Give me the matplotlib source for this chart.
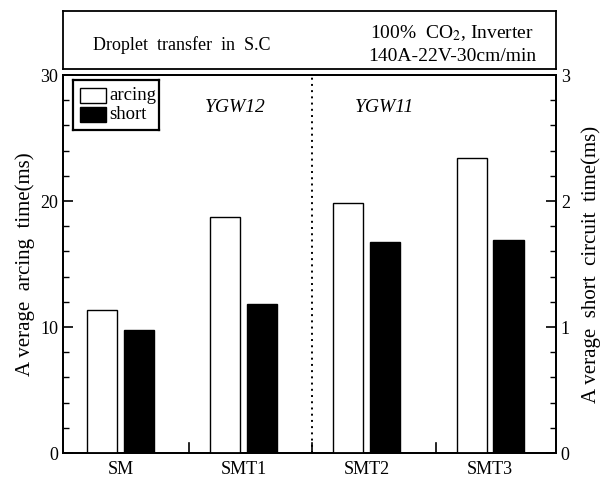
import matplotlib
matplotlib.use("Agg")
import matplotlib.pyplot as plt
from matplotlib.patches import Rectangle
from matplotlib.ticker import MultipleLocator
import numpy as np

categories = ["SM", "SMT1", "SMT2", "SMT3"]
arcing_ms = [11.35, 18.7, 19.85, 23.4]
short_ms = [0.98, 1.18, 1.675, 1.69]
left_ticks = [0, 10, 20, 30]
right_ticks = [0, 1, 2, 3]
group_labels = ["YGW12", "YGW11"]

plt.rcParams['font.family'] = ['Liberation Serif', 'DejaVu Serif']
plt.rcParams['mathtext.fontset'] = 'stix'

fig = plt.figure(figsize=(6.08, 4.82), dpi=100)
ax = fig.add_axes([63/608, 1-453/482, (556-63)/608, (453-75)/482])
ax2 = ax.twinx()

x = np.arange(1, len(categories) + 1)
w = 0.245
off = 0.15
ax.bar(x - off, arcing_ms, width=w, color='white', edgecolor='black', linewidth=1.0, zorder=3)
ax2.bar(x + off, short_ms, width=w, color='black', edgecolor='black', linewidth=1.0, zorder=3)

ax.set_xlim(0.534, 4.535)
ax.set_ylim(0, 30)
ax2.set_ylim(0, 3)
ax.set_yticks(left_ticks)
ax2.set_yticks(right_ticks)
ax.yaxis.set_minor_locator(MultipleLocator(2))
ax2.yaxis.set_minor_locator(MultipleLocator(0.2))
ax.tick_params(axis='y', which='major', direction='in', length=7, width=1.2, labelsize=13)
ax.tick_params(axis='y', which='minor', direction='in', length=4, width=1.0)
ax2.tick_params(axis='y', which='major', direction='in', length=7, width=1.2, labelsize=13)
ax2.tick_params(axis='y', which='minor', direction='in', length=4, width=1.0)

ax.set_xticks(x)
ax.set_xticklabels(categories, fontsize=13)
ax.tick_params(axis='x', which='major', length=0, pad=6)
# boundary ticks
for bx in [1.56, 2.555, 3.565]:
    ax.plot([bx, bx], [0, 0.8], color='black', lw=1.2, zorder=4, clip_on=False)

ax.axvline(2.555, color='black', linestyle=(0, (1, 2.2)), lw=1.4, zorder=2)

for sp in list(ax.spines.values()) + list(ax2.spines.values()):
    sp.set_linewidth(1.3)

ax.set_ylabel("A verage  arcing  time(ms)", fontsize=15, labelpad=4)
ax2.set_ylabel("A verage  short  circuit  time(ms)", fontsize=15, labelpad=8)

ax.text(0.349, 0.913, group_labels[0], transform=ax.transAxes, fontsize=14, style='italic', ha='center', va='center')
ax.text(0.653, 0.913, group_labels[1], transform=ax.transAxes, fontsize=14, style='italic', ha='center', va='center')

# legend box
lg = fig.add_axes([73/608, 1-130/482, (159-73)/608, (130-80)/482])
lg.set_xlim(0, 86)
lg.set_ylim(50, 0)
lg.set_xticks([]); lg.set_yticks([])
for sp in lg.spines.values():
    sp.set_linewidth(1.6)
lg.add_patch(Rectangle((7, 8), 26, 15, facecolor='white', edgecolor='black', lw=1.0))
lg.add_patch(Rectangle((7, 27), 26, 15, facecolor='black', edgecolor='black', lw=1.0))
lg.text(36, 15, "arcing", fontsize=13.5, va='center', ha='left')
lg.text(36, 35, "short", fontsize=13.5, va='center', ha='left')

# top info box
tb = fig.add_axes([63/608, 1-69/482, (556-63)/608, (69-11)/482])
tb.set_xticks([]); tb.set_yticks([])
for sp in tb.spines.values():
    sp.set_linewidth(1.3)
tb.text(0.06, 0.42, "Droplet  transfer  in  S.C", fontsize=13, ha='left', va='center', transform=tb.transAxes)
tb.text(0.789, 0.62, "100%  CO$_2$, Inverter", fontsize=14, ha='center', va='center', transform=tb.transAxes)
tb.text(0.789, 0.22, "140A-22V-30cm/min", fontsize=14, ha='center', va='center', transform=tb.transAxes)

fig.savefig("out.png", dpi=100)
